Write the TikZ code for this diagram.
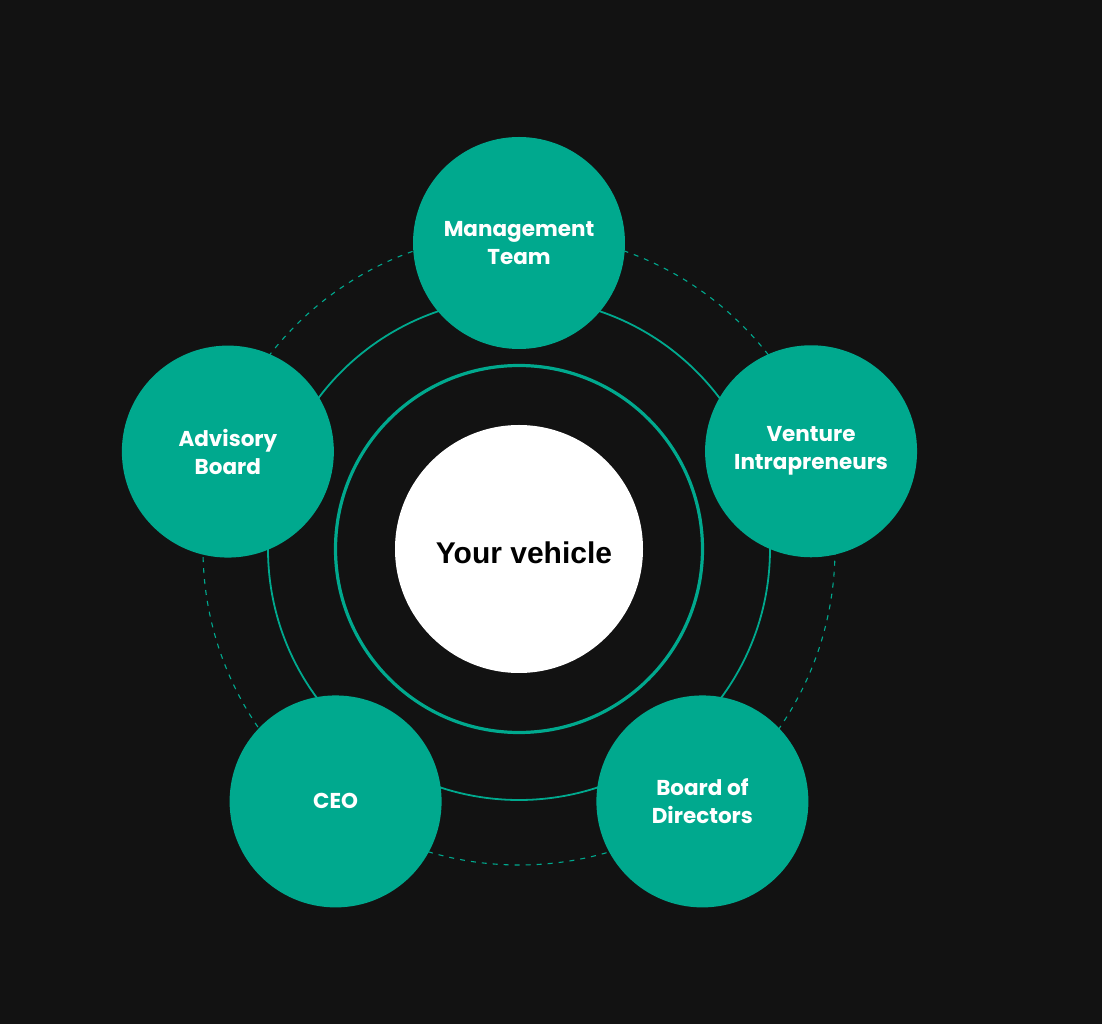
\documentclass[tikz,border=0pt]{standalone}
\usepackage{fontspec}
\setmainfont{Poppins}
\newfontfamily\arialbold{Liberation Sans}
\usetikzlibrary{calc}
\definecolor{bgdark}{HTML}{121212}
\definecolor{teal}{HTML}{00A98E}
\tikzstyle{role}=[circle,fill=teal,minimum size=212pt,inner sep=0pt,align=center,text=white,font=\fontsize{21.5}{28}\selectfont\bfseries, anchor = center]
\tikzstyle{hub}=[circle,fill=white,minimum size=248pt,inner sep=0pt, anchor = center]
\tikzstyle{hubtext}=[font=\arialbold\fontsize{30}{34}\selectfont\bfseries, anchor = center]
\tikzstyle{ring} = [draw=teal]

\begin{document}
\begin{tikzpicture}[x=1pt,y=1pt]
	\fill[bgdark] (-519,-475) rectangle (583,549);
	\useasboundingbox (-519,-475) rectangle (583,549);

	\node[hub](vehicle) at (0,0){};
	\node[hubtext, xshift=5pt, yshift=-4pt](vehiclelbl) at (vehicle.center){Your vehicle};

	% rings round the vehicle
	\draw[ring, line width=3.2pt] (vehicle.center) circle (183.5);
	\draw[ring, line width=1.8pt] (vehicle.center) circle (251);
	\draw[ring, line width=1.1pt, dash pattern=on 5pt off 6pt] (vehicle.center) circle (316);

	\node[role](mgmt) at (90:306){Management\\Team};
	\node[role](venture) at (18.5:308){Venture\\Intrapreneurs};
	\node[role](board) at (-54:312){Board of\\Directors};
	\node[role](ceo) at (-126:312){CEO};
	\node[role](advisory) at (161.5:307){Advisory\\Board};

\end{tikzpicture}
\end{document}
